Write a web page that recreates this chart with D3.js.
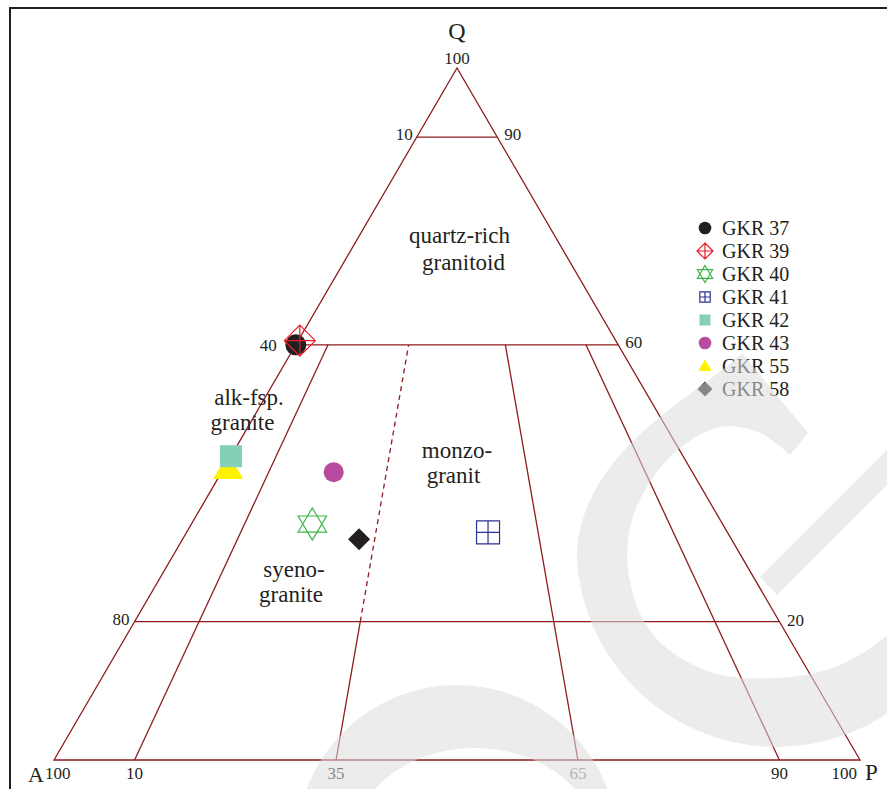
<!DOCTYPE html>
<html>
<head>
<meta charset="utf-8">
<script src="https://cdn.jsdelivr.net/npm/d3@7"></script>
<style>
  html, body { margin: 0; padding: 0; background: #fff; }
  svg { display: block; }
  text { font-family: "Liberation Serif", "DejaVu Serif", serif; fill: #231f20; }
</style>
</head>
<body>
<svg id="chart" width="887" height="789"></svg>
<script>
// QAP ternary diagram (quartz – alkali feldspar – plagioclase)

// Samples and their modal Q / A / P proportions (%)
const samples = ["GKR 37", "GKR 39", "GKR 40", "GKR 41", "GKR 42", "GKR 43", "GKR 55", "GKR 58"];
const qValues = [60.0, 60.6, 34.1, 32.9, 43.9, 41.6, 42.2, 31.9];
const aValues = [40.0, 39.2, 50.9, 29.7, 56.1, 44.5, 57.3, 46.2];
const pValues = [0.0, 0.2, 15.0, 37.4, 0.0, 13.9, 0.5, 21.9];

// Field boundaries: Q levels and P/(A+P) ratios
const qLevels = [90, 60, 20];
const leftLabels = ["10", "40", "80"];
const rightLabels = ["90", "60", "20"];
const ratioLines = [10, 35, 65, 90];
const baseLabels = ["10", "35", "65", "90"];

// Field names (one entry per text line)
const fieldLines = ["quartz-rich", "granitoid", "alk-fsp.", "granite", "monzo-", "granit", "syeno-", "granite"];

const svg = d3.select("#chart");
const lineColor = "#8e1b1f";

// Ternary scales: horizontal position from P + Q/2, vertical from Q
const xs = d3.scaleLinear().domain([0, 100]).range([54, 860]);
const ys = d3.scaleLinear().domain([0, 100]).range([760, 68]);
const tern = (q, p) => [xs(p + q / 2), ys(q)];

// page frame
svg.append("line").attr("x1", 9).attr("x2", 887).attr("y1", 8).attr("y2", 8)
  .attr("stroke", "#231f20").attr("stroke-width", 2);
svg.append("line").attr("x1", 10).attr("x2", 10).attr("y1", 7).attr("y2", 789)
  .attr("stroke", "#231f20").attr("stroke-width", 2);

const grid = svg.append("g").attr("fill", "none").attr("stroke", lineColor).attr("stroke-width", 1.3);

// outer triangle
const corners = [tern(0, 0), tern(100, 0), tern(0, 100)];
grid.append("path").attr("d", d3.line()(corners) + "Z");

// horizontal Q lines
qLevels.forEach(q => {
  const a = tern(q, 0), b = tern(q, 100 - q);
  grid.append("line").attr("x1", a[0]).attr("y1", a[1]).attr("x2", b[0]).attr("y2", b[1]);
});

// ratio lines from the base up to Q = 60 (35 line dashed above Q = 20)
const pointAt = (q, r) => tern(q, (100 - q) * r / 100);
ratioLines.forEach(r => {
  if (r === 35) {
    const a = pointAt(0, r), b = pointAt(20, r), c = pointAt(60, r);
    grid.append("line").attr("x1", a[0]).attr("y1", a[1]).attr("x2", b[0]).attr("y2", b[1]);
    grid.append("line").attr("x1", b[0]).attr("y1", b[1]).attr("x2", c[0]).attr("y2", c[1])
      .attr("stroke-dasharray", "5,4");
  } else {
    const a = pointAt(0, r), c = pointAt(60, r);
    grid.append("line").attr("x1", a[0]).attr("y1", a[1]).attr("x2", c[0]).attr("y2", c[1]);
  }
});

// tick labels along the sides
const labels = svg.append("g").attr("font-size", 17);
const leftShift = [[-4, 3], [-19, 6], [-5, 3]];
const rightShift = [[7, 3], [7, 3], [7.5, 4.5]];
qLevels.forEach((q, i) => {
  const a = tern(q, 0), b = tern(q, 100 - q);
  labels.append("text").attr("x", a[0] + leftShift[i][0]).attr("y", a[1] + leftShift[i][1])
    .attr("text-anchor", "end").text(leftLabels[i]);
  labels.append("text").attr("x", b[0] + rightShift[i][0]).attr("y", b[1] + rightShift[i][1])
    .attr("text-anchor", "start").text(rightLabels[i]);
});
ratioLines.forEach((r, i) => {
  const a = pointAt(0, r);
  labels.append("text").attr("x", a[0]).attr("y", a[1] + 19).attr("text-anchor", "middle")
    .style("fill", baseLabels[i] === "65" ? "#858585" : null)
    .text(baseLabels[i]);
});
const apex = tern(100, 0), cA = tern(0, 0), cP = tern(0, 100);
labels.append("text").attr("x", apex[0]).attr("y", apex[1] - 4).attr("text-anchor", "middle").text("100");
labels.append("text").attr("x", cA[0] - 9).attr("y", cA[1] + 19).text("100");
labels.append("text").attr("x", cP[0] - 3).attr("y", cP[1] + 19).attr("text-anchor", "end").text("100");

// corner names
svg.append("text").attr("x", apex[0]).attr("y", 39).attr("text-anchor", "middle").attr("font-size", 24).text("Q");
svg.append("text").attr("x", 28).attr("y", 782).attr("font-size", 22).text("A");
svg.append("text").attr("x", 865).attr("y", 780).attr("font-size", 23).text("P");

// field names
const fieldPos = [[459.5, 243], [463.5, 270], [249, 405], [242.5, 430], [457, 458], [453.5, 483], [294, 577], [291, 602]];
fieldLines.forEach((t, i) => {
  svg.append("text").attr("font-size", 23).attr("text-anchor", "middle")
    .attr("x", fieldPos[i][0]).attr("y", fieldPos[i][1]).text(t);
});

// marker symbols
const markerStyle = {
  "GKR 37": { kind: "circle", fill: "#231f20" },
  "GKR 39": { kind: "diamondCross", stroke: "#ed1c24" },
  "GKR 40": { kind: "star", stroke: "#3fb549" },
  "GKR 41": { kind: "squareCross", stroke: "#2e3192" },
  "GKR 42": { kind: "square", fill: "#85cfb6" },
  "GKR 43": { kind: "circle", fill: "#b84b9d" },
  "GKR 55": { kind: "triangle", fill: "#fff200" },
  "GKR 58": { kind: "diamond", fill: "#231f20" }
};
const chartSize = {
  "GKR 37": 10.5, "GKR 39": 15.5, "GKR 40": 15, "GKR 41": 11.5,
  "GKR 42": 11, "GKR 43": 10, "GKR 55": 15, "GKR 58": 11
};
const legendSize = {
  "GKR 37": 6.3, "GKR 39": 8, "GKR 40": 8, "GKR 41": 5.2,
  "GKR 42": 5.5, "GKR 43": 6.3, "GKR 55": 6.7, "GKR 58": 7.5
};

function drawMarker(g, name, s) {
  const st = markerStyle[name];
  const sw = 1.2;
  if (st.kind === "circle") {
    g.append("circle").attr("r", s).attr("fill", st.fill);
  } else if (st.kind === "diamond") {
    g.append("path").attr("d", `M0,${-s}L${s},0L0,${s}L${-s},0Z`).attr("fill", st.fill);
  } else if (st.kind === "diamondCross") {
    g.append("path").attr("d", `M0,${-s}L${s},0L0,${s}L${-s},0Z M0,${-s}V${s} M${-s},0H${s}`)
      .attr("fill", "none").attr("stroke", st.stroke).attr("stroke-width", sw);
  } else if (st.kind === "square") {
    g.append("rect").attr("x", -s).attr("y", -s).attr("width", 2 * s).attr("height", 2 * s).attr("fill", st.fill);
  } else if (st.kind === "squareCross") {
    g.append("path").attr("d", `M${-s},${-s}H${s}V${s}H${-s}Z M0,${-s}V${s} M${-s},0H${s}`)
      .attr("fill", "none").attr("stroke", st.stroke).attr("stroke-width", sw);
  } else if (st.kind === "star") {
    const w = s * 0.95, h = s * 1.07;
    g.append("path").attr("d",
      `M0,${-h}L${w},${h / 2}L${-w},${h / 2}Z M0,${h}L${w},${-h / 2}L${-w},${-h / 2}Z`)
      .attr("fill", "none").attr("stroke", st.stroke).attr("stroke-width", sw);
  } else if (st.kind === "triangle") {
    const h = s * 0.87;
    g.append("path").attr("d", `M0,${-h * 1.15}L${s},${h * 0.85}L${-s},${h * 0.85}Z`).attr("fill", st.fill);
  }
}

// sample points (square drawn over the triangle, diamond over the circle)
const drawOrder = ["GKR 37", "GKR 39", "GKR 40", "GKR 41", "GKR 55", "GKR 42", "GKR 43", "GKR 58"];
const pts = svg.append("g");
drawOrder.forEach(name => {
  const i = samples.indexOf(name);
  const [x, y] = tern(qValues[i], pValues[i]);
  const g = pts.append("g").attr("transform", `translate(${x},${y})`);
  drawMarker(g, name, chartSize[name]);
});

// legend
const legend = svg.append("g").attr("transform", "translate(705,228)");
samples.forEach((name, i) => {
  const row = legend.append("g").attr("transform", `translate(0,${i * 23})`);
  drawMarker(row, name, legendSize[name]);
  row.append("text").attr("x", 17).attr("y", 6.5).attr("font-size", 20).text(name);
});

// faint background logo laid over the lower right
const logo = svg.append("g").attr("opacity", 0.55).attr("fill", "#dcdcdc").attr("pointer-events", "none");

// large "G"
const innerEdge = d3.line().curve(d3.curveCatmullRom)([
  [140, 50], [110, 85], [60, 115], [0, 126], [-65, 120], [-120, 85], [-145, 30],
  [-143, -32], [-105, -95], [-55, -125], [-15, -119], [15, -97]
]);
const gShape = "M-33,-199 C-75,-157 -198,-102 -198,8 A200,200 0 0 0 190,62 L" +
  innerEdge.slice(1) + " L33,-119 Z";
const bigG = logo.append("g").attr("transform", "translate(775,552)");
bigG.append("path").attr("d", gShape);
bigG.append("path").attr("d", "M-15,25 L120,-110 L137,-92 L2,43 Z");

// ring rising from the bottom edge
const ringOuter = d3.path();
ringOuter.arc(457, 846, 161, 0, 2 * Math.PI);
ringOuter.closePath();
const ringInner = "M350,850 A125,102 0 1 0 600,850 A125,102 0 1 0 350,850 Z";
logo.append("path").attr("fill-rule", "evenodd").attr("d", ringOuter.toString() + " " + ringInner);
</script>
</body>
</html>
